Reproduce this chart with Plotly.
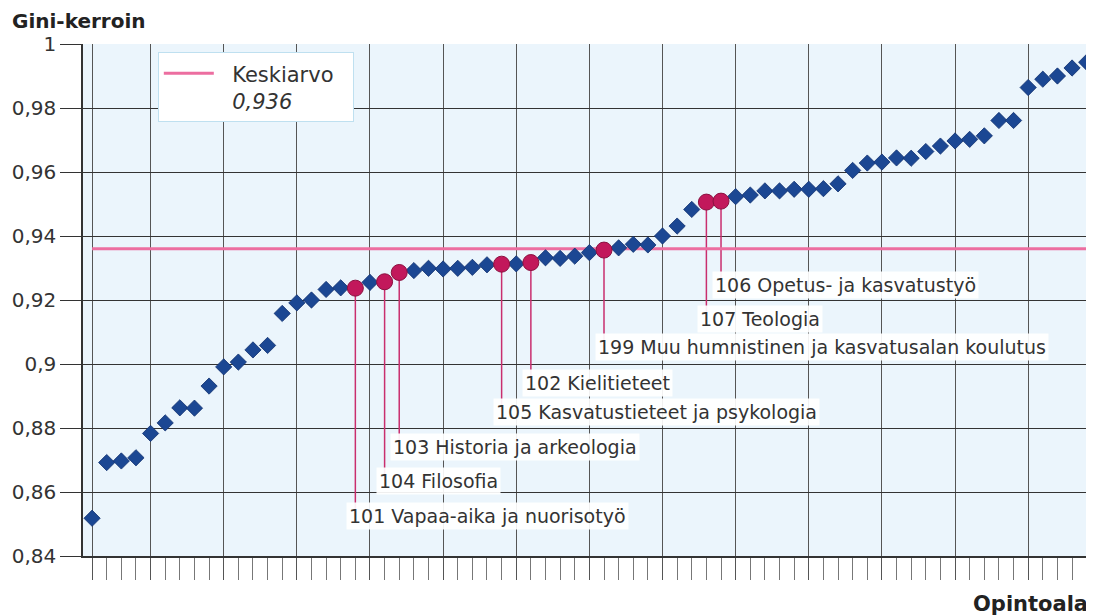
import plotly.graph_objects as go

# Gini coefficient per field of study, sorted ascending
GINI = [0.8518, 0.8692, 0.8697, 0.8707, 0.8783, 0.8816, 0.8863, 0.8862, 0.8931, 0.8991,
        0.9006, 0.9044, 0.9058, 0.9158, 0.9191, 0.9200, 0.9233, 0.9238, 0.9237, 0.9255,
        0.9257, 0.9286, 0.9292, 0.9299, 0.9297, 0.9299, 0.9302, 0.9310, 0.9312, 0.9313,
        0.9317, 0.9332, 0.9330, 0.9337, 0.9348, 0.9356, 0.9363, 0.9374, 0.9372, 0.9400,
        0.9431, 0.9483, 0.9506, 0.9509, 0.9523, 0.9528, 0.9541, 0.9541, 0.9546, 0.9546,
        0.9548, 0.9563, 0.9605, 0.9628, 0.9631, 0.9644, 0.9643, 0.9664, 0.9681, 0.9697,
        0.9702, 0.9713, 0.9761, 0.9761, 0.9864, 0.9890, 0.9900, 0.9925, 0.9943]
FIELD_POS = list(range(len(GINI)))

MEAN_VALUE = 0.936
MEAN_LABEL = '&nbsp;&nbsp;Keskiarvo&nbsp;&nbsp;<br>&nbsp;&nbsp;<i>0,936</i>'

# Highlighted fields (position in the sorted order) and their names
HIGHLIGHT_POS = [18, 20, 21, 28, 30, 35, 42, 43]
HIGHLIGHT_NAMES = [
    '101 Vapaa-aika ja nuorisotyö',
    '104 Filosofia',
    '103 Historia ja arkeologia',
    '105 Kasvatustieteet ja psykologia',
    '102 Kielitieteet',
    '199 Muu humnistinen ja kasvatusalan koulutus',
    '107 Teologia',
    '106 Opetus- ja kasvatustyö',
]
# where the name labels sit vertically
LABEL_Y = [0.8525, 0.8635, 0.8742, 0.8851, 0.8942, 0.9052, 0.9140, 0.9247]

Y_TICKS = [0.84, 0.86, 0.88, 0.9, 0.92, 0.94, 0.96, 0.98, 1.0]
Y_TICK_TEXT = ['0,84', '0,86', '0,88', '0,9', '0,92', '0,94', '0,96', '0,98', '1']
X_GRID = [0, 4, 9, 14, 19, 24, 29, 34, 39, 44, 49, 54, 59, 64]

FONT = 'DejaVu Sans'
TEXT_COLOR = '#333333'
DIAMOND_COLOR = '#1b4793'
HIGHLIGHT_COLOR = '#c2185b'
LEADER_COLOR = '#c92e6e'
MEAN_COLOR = '#ec6ea0'

fig = go.Figure()

# leader lines from highlighted points down to their labels
lx, ly = [], []
for pos, lab_y in zip(HIGHLIGHT_POS, LABEL_Y):
    lx += [pos, pos, None]
    ly += [GINI[pos], lab_y, None]
fig.add_trace(go.Scatter(
    x=lx, y=ly, mode='lines',
    line=dict(color=LEADER_COLOR, width=1.5),
    showlegend=False, hoverinfo='skip'
))

fig.add_trace(go.Scatter(
    x=FIELD_POS, y=[MEAN_VALUE] * len(FIELD_POS),
    mode='lines', name=MEAN_LABEL,
    line=dict(color=MEAN_COLOR, width=3),
    hoverinfo='skip'
))

other_pos = [p for p in FIELD_POS if p not in HIGHLIGHT_POS]
fig.add_trace(go.Scatter(
    x=other_pos, y=[GINI[p] for p in other_pos],
    mode='markers', showlegend=False,
    marker=dict(symbol='diamond', size=12.5, color=DIAMOND_COLOR,
                line=dict(color='#10306e', width=0.8)),
    hovertemplate='%{y:.3f}<extra></extra>'
))

fig.add_trace(go.Scatter(
    x=HIGHLIGHT_POS, y=[GINI[p] for p in HIGHLIGHT_POS],
    mode='markers', showlegend=False,
    marker=dict(symbol='circle', size=16, color=HIGHLIGHT_COLOR,
                line=dict(color='#8a1140', width=1)),
    text=HIGHLIGHT_NAMES,
    hovertemplate='%{text}: %{y:.3f}<extra></extra>'
))

for pos, name, lab_y in zip(HIGHLIGHT_POS, HIGHLIGHT_NAMES, LABEL_Y):
    fig.add_annotation(
        x=pos, y=lab_y, text=name, showarrow=False,
        xanchor='left', yanchor='middle', xshift=-9,
        bgcolor='rgba(255,255,255,0.92)', borderpad=2,
        font=dict(family=FONT, size=19, color=TEXT_COLOR)
    )

fig.add_annotation(
    text='<b>Opintoala</b>', xref='paper', yref='paper',
    x=1, y=0, xanchor='right', yanchor='top', xshift=-4, yshift=-34,
    showarrow=False, font=dict(family=FONT, size=21, color='#222222')
)

# the page body adds an 8px margin, so the figure is 8px smaller each way
fig.update_layout(
    width=1086, height=607,
    margin=dict(l=75, r=0, t=36, b=59),
    title=dict(
        text='<b>Gini-kerroin</b>', xref='container', yref='container',
        x=0, y=0.979, xanchor='left', yanchor='middle',
        pad=dict(l=4),
        font=dict(family=FONT, size=20, color='#222222')
    ),
    paper_bgcolor='white',
    plot_bgcolor='#ebf5fc',
    font=dict(family=FONT, color=TEXT_COLOR),
    showlegend=True,
    legend=dict(
        x=0.074, y=0.984, xanchor='left', yanchor='top',
        bgcolor='white', bordercolor='#bfe0f0', borderwidth=1,
        font=dict(family=FONT, size=21, color=TEXT_COLOR),
        itemwidth=50, valign='top'
    ),
    xaxis=dict(
        range=[-0.62, 68.5],
        tickmode='array', tickvals=X_GRID,
        showticklabels=False,
        ticks='outside', ticklen=22, tickcolor='#555555',
        showgrid=True, gridcolor='#555555', gridwidth=1,
        minor=dict(dtick=1, tick0=0, ticks='outside', ticklen=22,
                   tickcolor='#777777', showgrid=False),
        showline=True, linecolor='#333333', linewidth=1.5,
        zeroline=False, fixedrange=True
    ),
    yaxis=dict(
        range=[0.84, 1.0],
        tickmode='array', tickvals=Y_TICKS, ticktext=Y_TICK_TEXT,
        ticks='outside', ticklen=21, tickcolor='#333333',
        tickfont=dict(family=FONT, size=20, color=TEXT_COLOR),
        showgrid=True, gridcolor='#333333', gridwidth=1,
        showline=True, linecolor='#333333', linewidth=1.5,
        zeroline=False, fixedrange=True
    ),
)

fig.write_html('out.html')
